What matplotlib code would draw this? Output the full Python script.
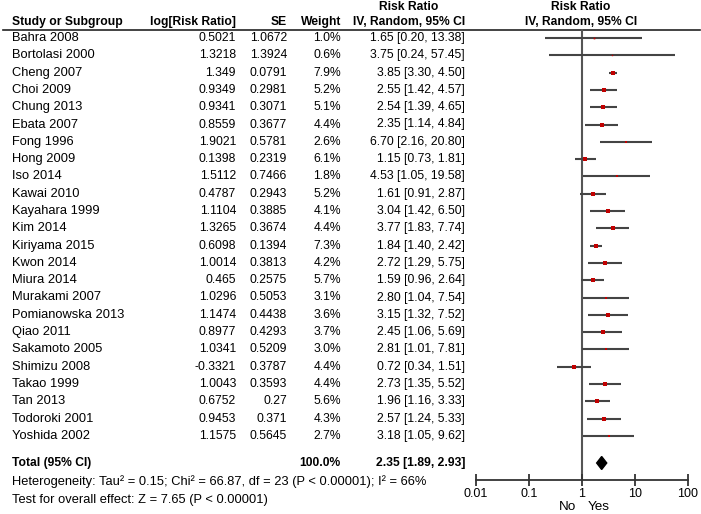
import numpy as np
import matplotlib.pyplot as plt
from matplotlib.patches import Polygon

# study data
studies = ['Bahra 2008', 'Bortolasi 2000', 'Cheng 2007', 'Choi 2009', 'Chung 2013',
           'Ebata 2007', 'Fong 1996', 'Hong 2009', 'Iso 2014', 'Kawai 2010',
           'Kayahara 1999', 'Kim 2014', 'Kiriyama 2015', 'Kwon 2014', 'Miura 2014',
           'Murakami 2007', 'Pomianowska 2013', 'Qiao 2011', 'Sakamoto 2005',
           'Shimizu 2008', 'Takao 1999', 'Tan 2013', 'Todoroki 2001', 'Yoshida 2002']
log_rr = [0.5021, 1.3218, 1.349, 0.9349, 0.9341, 0.8559, 1.9021, 0.1398, 1.5112, 0.4787,
          1.1104, 1.3265, 0.6098, 1.0014, 0.465, 1.0296, 1.1474, 0.8977, 1.0341,
          -0.3321, 1.0043, 0.6752, 0.9453, 1.1575]
se = [1.0672, 1.3924, 0.0791, 0.2981, 0.3071, 0.3677, 0.5781, 0.2319, 0.7466, 0.2943,
      0.3885, 0.3674, 0.1394, 0.3813, 0.2575, 0.5053, 0.4438, 0.4293, 0.5209,
      0.3787, 0.3593, 0.27, 0.371, 0.5645]
weight = [1.0, 0.6, 7.9, 5.2, 5.1, 4.4, 2.6, 6.1, 1.8, 5.2, 4.1, 4.4, 7.3, 4.2, 5.7,
          3.1, 3.6, 3.7, 3.0, 4.4, 4.4, 5.6, 4.3, 2.7]
rr = [1.65, 3.75, 3.85, 2.55, 2.54, 2.35, 6.70, 1.15, 4.53, 1.61, 3.04, 3.77, 1.84,
      2.72, 1.59, 2.80, 3.15, 2.45, 2.81, 0.72, 2.73, 1.96, 2.57, 3.18]
ci_lo = [0.20, 0.24, 3.30, 1.42, 1.39, 1.14, 2.16, 0.73, 1.05, 0.91, 1.42, 1.83, 1.40,
         1.29, 0.96, 1.04, 1.32, 1.06, 1.01, 0.34, 1.35, 1.16, 1.24, 1.05]
ci_hi = [13.38, 57.45, 4.50, 4.57, 4.65, 4.84, 20.80, 1.81, 19.58, 2.87, 6.50, 7.74,
         2.42, 5.75, 2.64, 7.54, 7.52, 5.69, 7.81, 1.51, 5.52, 3.33, 5.33, 9.62]
total_rr, total_lo, total_hi = 2.35, 1.89, 2.93
ticks = [0.01, 0.1, 1, 10, 100]
tick_labels = ['0.01', '0.1', '1', '10', '100']

plt.rcParams['font.family'] = ['Liberation Sans', 'DejaVu Sans']
fs = 9.3    # regular text with letters
fn = 8.7    # numeric columns
fb = 8.7    # bold text

W, H = 701, 514
fig = plt.figure(figsize=(W / 100, H / 100), dpi=100)

# text layer in pixel coordinates
ax = fig.add_axes([0, 0, 1, 1])
ax.set_xlim(0, W)
ax.set_ylim(H, 0)
ax.axis('off')

# forest layer (log scale), y in pixel coordinates
top, bottom = 29, 480
fx0, fx1 = 476, 688
fax = fig.add_axes([fx0 / W, (H - bottom) / H, (fx1 - fx0) / W, (bottom - top) / H])
fax.set_xscale('log')
fax.set_xlim(0.01, 100)
fax.set_ylim(bottom, top)
fax.patch.set_alpha(0)
for s in ['top', 'left', 'right']:
    fax.spines[s].set_visible(False)
fax.spines['bottom'].set_linewidth(1.3)
fax.spines['bottom'].set_color('#333333')
fax.set_yticks([])
fax.set_xticks(ticks)
fax.set_xticklabels(tick_labels, fontsize=9)
fax.minorticks_off()
fax.tick_params(axis='x', direction='inout', length=8, width=1.3, color='#333333', pad=2)

# column anchors
x_name, x_log, x_se, x_w, x_ci = 12, 236, 287, 341, 465

# header
hy = 22
ax.text(x_name, hy, 'Study or Subgroup', fontsize=fb, fontweight='bold', va='center')
ax.text(x_log, hy, 'log[Risk Ratio]', fontsize=fb, fontweight='bold', va='center', ha='right')
ax.text(x_se, hy, 'SE', fontsize=fb, fontweight='bold', va='center', ha='right')
ax.text(x_w, hy, 'Weight', fontsize=fb, fontweight='bold', va='center', ha='right')
ax.text(409, 7, 'Risk Ratio', fontsize=fb, fontweight='bold', va='center', ha='center')
ax.text(409, hy, 'IV, Random, 95% CI', fontsize=fb, fontweight='bold', va='center', ha='center')
ax.text(581, 7, 'Risk Ratio', fontsize=fb, fontweight='bold', va='center', ha='center')
ax.text(581, hy, 'IV, Random, 95% CI', fontsize=fb, fontweight='bold', va='center', ha='center')
ax.plot([3, 700], [29.5, 29.5], color='#222222', lw=1.2)

# study rows
row0, step = 38, 17.3
ys = [row0 + i * step for i in range(len(studies))]
for i, name in enumerate(studies):
    y = ys[i]
    ax.text(x_name, y, name, fontsize=fs, va='center')
    ax.text(x_log, y, str(log_rr[i]), fontsize=fn, va='center', ha='right')
    ax.text(x_se, y, str(se[i]), fontsize=fn, va='center', ha='right')
    ax.text(x_w, y, '%.1f%%' % weight[i], fontsize=fn, va='center', ha='right')
    ax.text(x_ci, y, '%.2f [%.2f, %.2f]' % (rr[i], ci_lo[i], ci_hi[i]), fontsize=fn,
            va='center', ha='right')
    fax.plot([ci_lo[i], ci_hi[i]], [y, y], color='#444444', lw=1.5, solid_capstyle='butt')
    side_px = 1.7 * np.sqrt(weight[i])
    fax.plot(rr[i], y, marker='s', color='#c00000', markersize=side_px * 0.72,
             markeredgewidth=0)

# vertical line of no effect
fax.axvline(1, color='#555555', lw=1.5, zorder=0)

# total
ty = 463
ax.text(x_name, ty, 'Total (95% CI)', fontsize=fb, fontweight='bold', va='center')
ax.text(x_w, ty, '100.0%', fontsize=fb, fontweight='bold', va='center', ha='right')
ax.text(x_ci, ty, '%.2f [%.2f, %.2f]' % (total_rr, total_lo, total_hi), fontsize=fb,
        fontweight='bold', va='center', ha='right')
dia = Polygon([[total_lo, ty], [total_rr, ty - 6.5], [total_hi, ty], [total_rr, ty + 6.5]],
              closed=True, facecolor='black', edgecolor='black')
fax.add_patch(dia)

ax.text(x_name, 482, 'Heterogeneity: Tau\u00b2 = 0.15; Chi\u00b2 = 66.87, df = 23 (P < 0.00001); I\u00b2 = 66%',
        fontsize=fs, va='center')
ax.text(x_name, 500, 'Test for overall effect: Z = 7.65 (P < 0.00001)', fontsize=fs, va='center')

ax.text(568, 507, 'No', fontsize=fs + 0.4, va='center', ha='center')
ax.text(599, 507, 'Yes', fontsize=fs + 0.4, va='center', ha='center')

fig.savefig('out.png', dpi=100)
